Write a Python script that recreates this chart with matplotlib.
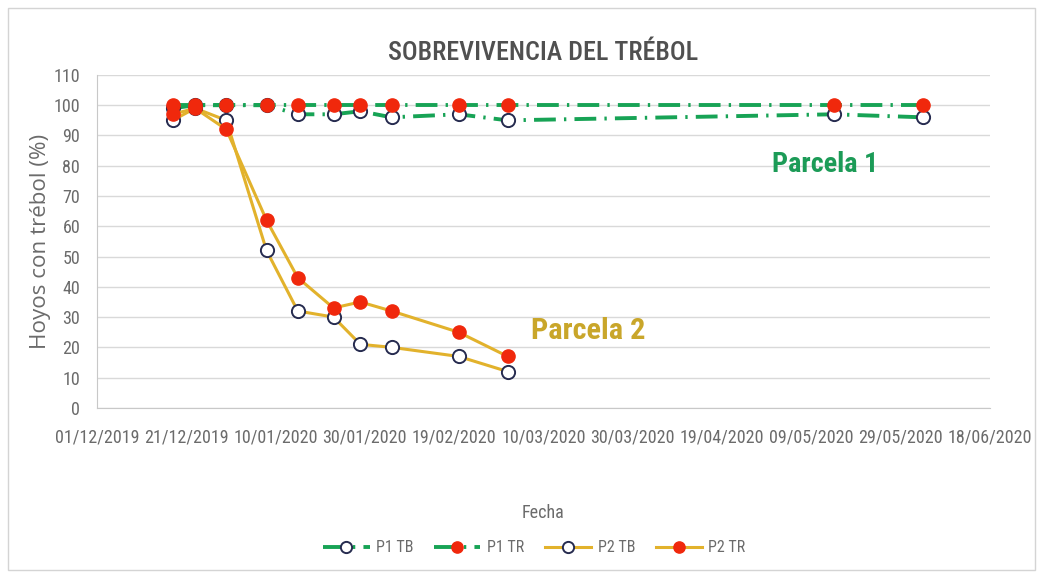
import matplotlib.pyplot as plt
import matplotlib.dates as mdates
from matplotlib.patches import Rectangle
import datetime as dt

# -------------------------------------------------------------#
#   datos
# -------------------------------------------------------------#
fechas_p1 = ['2019-12-18', '2019-12-23', '2019-12-30', '2020-01-08', '2020-01-15',
             '2020-01-23', '2020-01-29', '2020-02-05', '2020-02-20', '2020-03-02',
             '2020-05-14', '2020-06-03']
p1_tb = [99, 100, 100, 100, 97, 97, 98, 96, 97, 95, 97, 96]
p1_tr = [100, 100, 100, 100, 100, 100, 100, 100, 100, 100, 100, 100]

fechas_p2 = fechas_p1[:10]
p2_tb = [95, 99, 95, 52, 32, 30, 21, 20, 17, 12]
p2_tr = [97, 99, 92, 62, 43, 33, 35, 32, 25, 17]

etiquetas = ['P1 TB', 'P1 TR', 'P2 TB', 'P2 TR']


def to_date(lista):
    return [dt.datetime.strptime(s, '%Y-%m-%d') for s in lista]


def ajustar(t, px, vertical=False):
    # escala el tamano de letra para que el texto ocupe px pixeles
    r = fig.canvas.get_renderer()
    bb = t.get_window_extent(renderer=r)
    largo = bb.height if vertical else bb.width
    t.set_fontsize(t.get_fontsize() * px / largo)


d1 = to_date(fechas_p1)
d2 = to_date(fechas_p2)

fuente = ['Roboto Condensed', 'DejaVu Sans']
plt.rcParams['font.family'] = fuente

verde = '#17a355'
oro = '#e2b22c'
rojo = '#f0280c'
azul = '#262b4f'
gris = '#6b6b6b'

fig = plt.figure(figsize=(10.41, 5.81), dpi=100)
fig.patches.append(Rectangle((0.008, 0.019), 0.986, 0.967, transform=fig.transFigure,
                             fill=False, edgecolor='#d4d4d4', linewidth=1))
ax = fig.add_axes([0.093, 0.298, 0.858, 0.573])

dashdot = (0, (5.6, 2.1, 0.6, 2.1))
ax.plot(d1, p1_tb, color=verde, lw=2.8, linestyle=dashdot, marker='o', ms=9.5,
        mfc='white', mec=azul, mew=1.4, label=etiquetas[0], zorder=3)
ax.plot(d1, p1_tr, color=verde, lw=2.8, linestyle=dashdot, marker='o', ms=9.5,
        mfc=rojo, mec=rojo, label=etiquetas[1], zorder=4)
ax.plot(d2, p2_tb, color=oro, lw=2.2, marker='o', ms=9.5,
        mfc='white', mec=azul, mew=1.4, label=etiquetas[2], zorder=3)
ax.plot(d2, p2_tr, color=oro, lw=2.2, marker='o', ms=9.5,
        mfc=rojo, mec=rojo, label=etiquetas[3], zorder=4)

inicio = dt.datetime(2019, 12, 1)
ticks = [inicio + dt.timedelta(days=20 * i) for i in range(11)]
ax.set_xticks(ticks)
ax.xaxis.set_major_formatter(mdates.DateFormatter('%d/%m/%Y'))
ax.set_xlim(ticks[0], ticks[-1])
ax.set_ylim(0, 110)
ax.set_yticks(range(0, 111, 10))

ax.grid(axis='y', color='#d9d9d9', linewidth=1)
ax.set_axisbelow(True)
for s in ['top', 'right']:
    ax.spines[s].set_visible(False)
for s in ['left', 'bottom']:
    ax.spines[s].set_color('#c8c8c8')
ax.tick_params(axis='both', colors=gris, labelsize=13, length=0)
ax.tick_params(axis='x', pad=15)
ax.tick_params(axis='y', pad=12)

titulo = ax.set_title('SOBREVIVENCIA DEL TRÉBOL', fontsize=18, color='#505050',
                      fontweight='medium', pad=11)
ylab = ax.set_ylabel('Hoyos con trébol (%)', fontsize=13, color=gris,
                     family=['Open Sans', 'DejaVu Sans'], labelpad=2)
ax.set_xlabel('Fecha', fontsize=13, color=gris, labelpad=41)

t1 = ax.text(dt.datetime(2020, 5, 12), 80.5, 'Parcela 1', color='#1c9b57', fontsize=21,
             fontweight='bold', ha='center', va='center')
t2 = ax.text(dt.datetime(2020, 3, 20), 25.5, 'Parcela 2', color='#c9a62a', fontsize=21,
             fontweight='bold', ha='center', va='center')

ajustar(titulo, 310)
ajustar(ylab, 214, vertical=True)
ajustar(t1, 106)
ajustar(t2, 114)

leg = ax.legend(loc='upper center', bbox_to_anchor=(0.49, -0.355), ncol=4, frameon=False,
                fontsize=11.5, labelcolor=gris, handlelength=2.9, columnspacing=1.3,
                markerscale=0.85, handletextpad=0.4)

plt.savefig('out.png', dpi=100)
